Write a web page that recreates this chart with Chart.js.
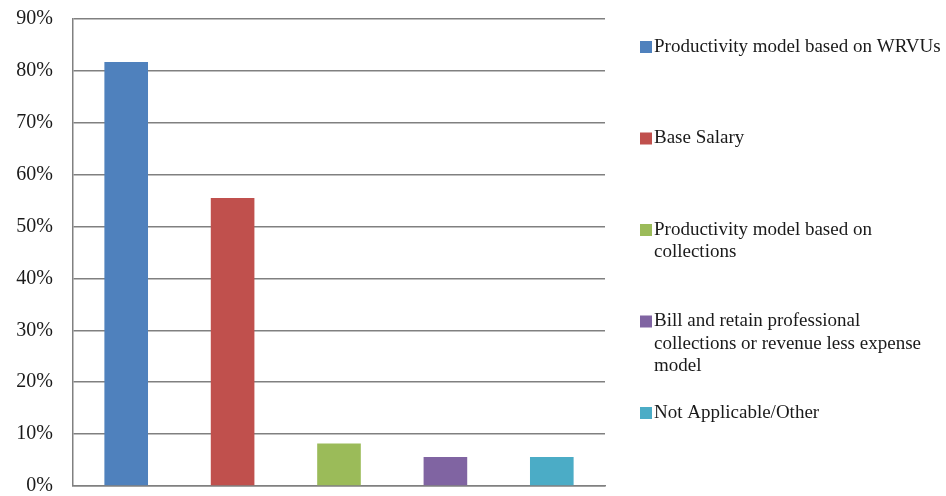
<!DOCTYPE html>
<html>
<head>
<meta charset="utf-8">
<script src="https://cdn.jsdelivr.net/npm/chart.js@4/dist/chart.umd.min.js"></script>
<style>
  html, body { margin: 0; padding: 0; background: #fff; }
  #wrap { width: 946px; height: 496px; position: relative; }
</style>
</head>
<body>
<div id="wrap"><canvas id="chart1"></canvas></div>
<script>
// compensation model shares
const categories = [
  ["Productivity model based on WRVUs"],
  ["Base Salary"],
  ["Productivity model based on", "collections"],
  ["Bill and retain professional", "collections or revenue less expense", "model"],
  ["Not Applicable/Other"]
];
const shares = [81.7, 55.5, 8.2, 5.6, 5.6];
const barColors = ["#4F81BD", "#C0504D", "#9BBB59", "#8064A2", "#4BACC6"];
const yTicks = [0, 10, 20, 30, 40, 50, 60, 70, 80, 90];

const serif = "'Liberation Serif', 'DejaVu Serif', serif";

// legend on the right, one entry per bar, spread down the side like the original
const sideLegend = {
  id: "sideLegend",
  afterDraw(chart) {
    const ctx = chart.ctx;
    const colors = chart.data.datasets[0].backgroundColor;
    const startY = 47, step = 91.5, lineH = 22.5;
    ctx.save();
    ctx.font = "19px " + serif;
    ctx.textBaseline = "middle";
    ctx.textAlign = "left";
    chart.data.labels.forEach((lines, i) => {
      const y = startY + i * step;
      ctx.fillStyle = colors[i];
      ctx.fillRect(640, y - 6, 12, 12);
      ctx.fillStyle = "#1a1a1a";
      lines.forEach((ln, j) => ctx.fillText(ln, 654, y + j * lineH));
    });
    ctx.restore();
  }
};

new Chart(document.getElementById("chart1").getContext("2d"), {
  type: "bar",
  data: {
    labels: categories,
    datasets: [{
      data: shares,
      backgroundColor: barColors,
      borderWidth: 0,
      barPercentage: 0.41,
      categoryPercentage: 1.0
    }]
  },
  options: {
    responsive: true,
    maintainAspectRatio: false,
    animation: false,
    layout: { padding: { left: 0, right: 341, top: 0, bottom: 0 } },
    plugins: {
      legend: { display: false },
      tooltip: { enabled: false }
    },
    scales: {
      x: {
        afterFit(scale) { scale.height = 0; },
        ticks: { display: false },
        grid: { display: false, drawTicks: false },
        border: { display: true, color: "#808080", width: 1.5 }
      },
      y: {
        min: 0,
        max: 90,
        afterBuildTicks(scale) { scale.ticks = yTicks.map(v => ({ value: v })); },
        afterFit(scale) {
          scale.width = 73;
          scale.paddingTop = 19;
          scale.paddingBottom = 10;
        },
        ticks: {
          padding: 20,
          color: "#1a1a1a",
          font: { family: serif, size: 20 },
          callback: v => v + "%"
        },
        grid: { color: "#808080", lineWidth: 1.5, drawTicks: false },
        border: { display: true, color: "#808080", width: 1.5 }
      }
    }
  },
  plugins: [sideLegend]
});
</script>
</body>
</html>
